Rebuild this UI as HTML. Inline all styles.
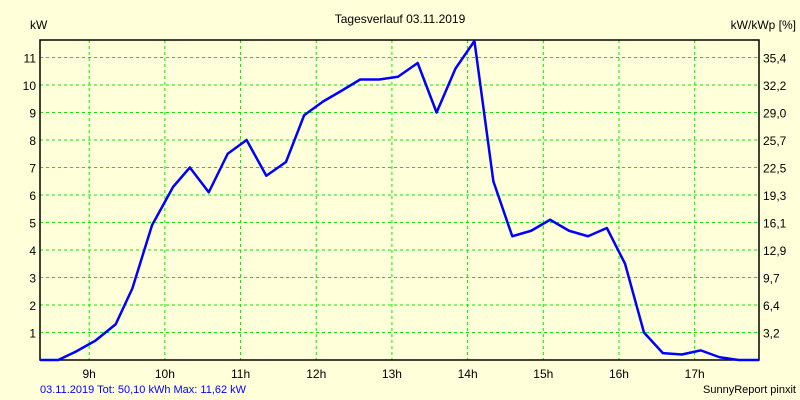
<!DOCTYPE html>
<html><head><meta charset="utf-8"><style>
body{margin:0;background:#ffffda;}
svg{display:block;font-family:"Liberation Sans",sans-serif;}
</style></head><body>
<svg id="chart" width="800" height="400">
<rect width="800" height="400" fill="#ffffda"/>
<text x="400" y="23" font-size="12" text-anchor="middle">Tagesverlauf 03.11.2019</text>
<text x="30" y="29" font-size="12">kW</text>
<text x="796" y="29" font-size="12" text-anchor="end">kW/kWp [%]</text>
<text x="40" y="393" font-size="11" fill="#0000ff">03.11.2019 Tot: 50,10 kWh Max: 11,62 kW</text>
<text x="796" y="393" font-size="11" text-anchor="end">SunnyReport pinxit</text>
<g id="grid"></g><g id="axes"></g><g id="series"></g>
</svg>
<script>
const hourTicks=[9,10,11,12,13,14,15,16,17];
const kwTicks=[1,2,3,4,5,6,7,8,9,10,11];
const pctLabels=["3,2","6,4","9,7","12,9","16,1","19,3","22,5","25,7","29,0","32,2","35,4"];
const times=[8.35,8.59,8.82,9.08,9.35,9.57,9.83,10.11,10.33,10.58,10.83,11.08,11.34,11.6,11.84,12.09,12.34,12.58,12.83,13.08,13.34,13.59,13.84,14.09,14.34,14.59,14.84,15.09,15.34,15.59,15.84,16.08,16.33,16.58,16.83,17.08,17.33,17.58,17.85];
const power=[0,0,0.3,0.7,1.3,2.6,4.9,6.3,7.0,6.1,7.5,8.0,6.7,7.2,8.9,9.4,9.8,10.2,10.2,10.3,10.8,9.0,10.6,11.6,6.5,4.5,4.7,5.1,4.7,4.5,4.8,3.5,1.0,0.25,0.2,0.35,0.1,0,0];
const L=40,R=759,T=40,B=360;
const X=h=>L+(h-8.35)*(R-L)/(17.85-8.35);
const Y=v=>B-v*27.5;
const NS="http://www.w3.org/2000/svg";
function mk(p,tag,a){const e=document.createElementNS(NS,tag);for(const k in a)e.setAttribute(k,a[k]);p.appendChild(e);return e;}
const grid=document.getElementById('grid'),axes=document.getElementById('axes'),series=document.getElementById('series');
hourTicks.forEach(h=>{
 const l=mk(grid,'line',{x1:X(h),x2:X(h),y1:T,y2:B,stroke:'#00ee00','stroke-dasharray':'3,3'});
 
 
 const t=mk(axes,'text',{x:X(h),y:B+18,'font-size':12,'text-anchor':'middle'});t.textContent=h+'h';
 
 
});
kwTicks.forEach((v,i)=>{
 const l=mk(grid,'line',{x1:L,x2:R,y1:Y(v),y2:Y(v),stroke:'#00ee00','stroke-dasharray':'3,3'});
 
 
 const t=mk(axes,'text',{x:L-4,y:Y(v)+5,'font-size':12,'text-anchor':'end'});t.textContent=v;
 
 
 const t2=mk(axes,'text',{x:R+4,y:Y(v)+5,'font-size':12});t2.textContent=pctLabels[i];
 
 
});
const f=mk(axes,'path',{d:`M${L},${T}H${R}V${B}H${L}Z`,fill:'none',stroke:'#000','stroke-width':1.5});


const line=mk(series,'polyline',{points:times.map((t,i)=>X(t)+','+Y(power[i])).join(' '),fill:'none',stroke:'#0000ff','stroke-width':2.5,'stroke-linejoin':'round'});


</script>
</body></html>
